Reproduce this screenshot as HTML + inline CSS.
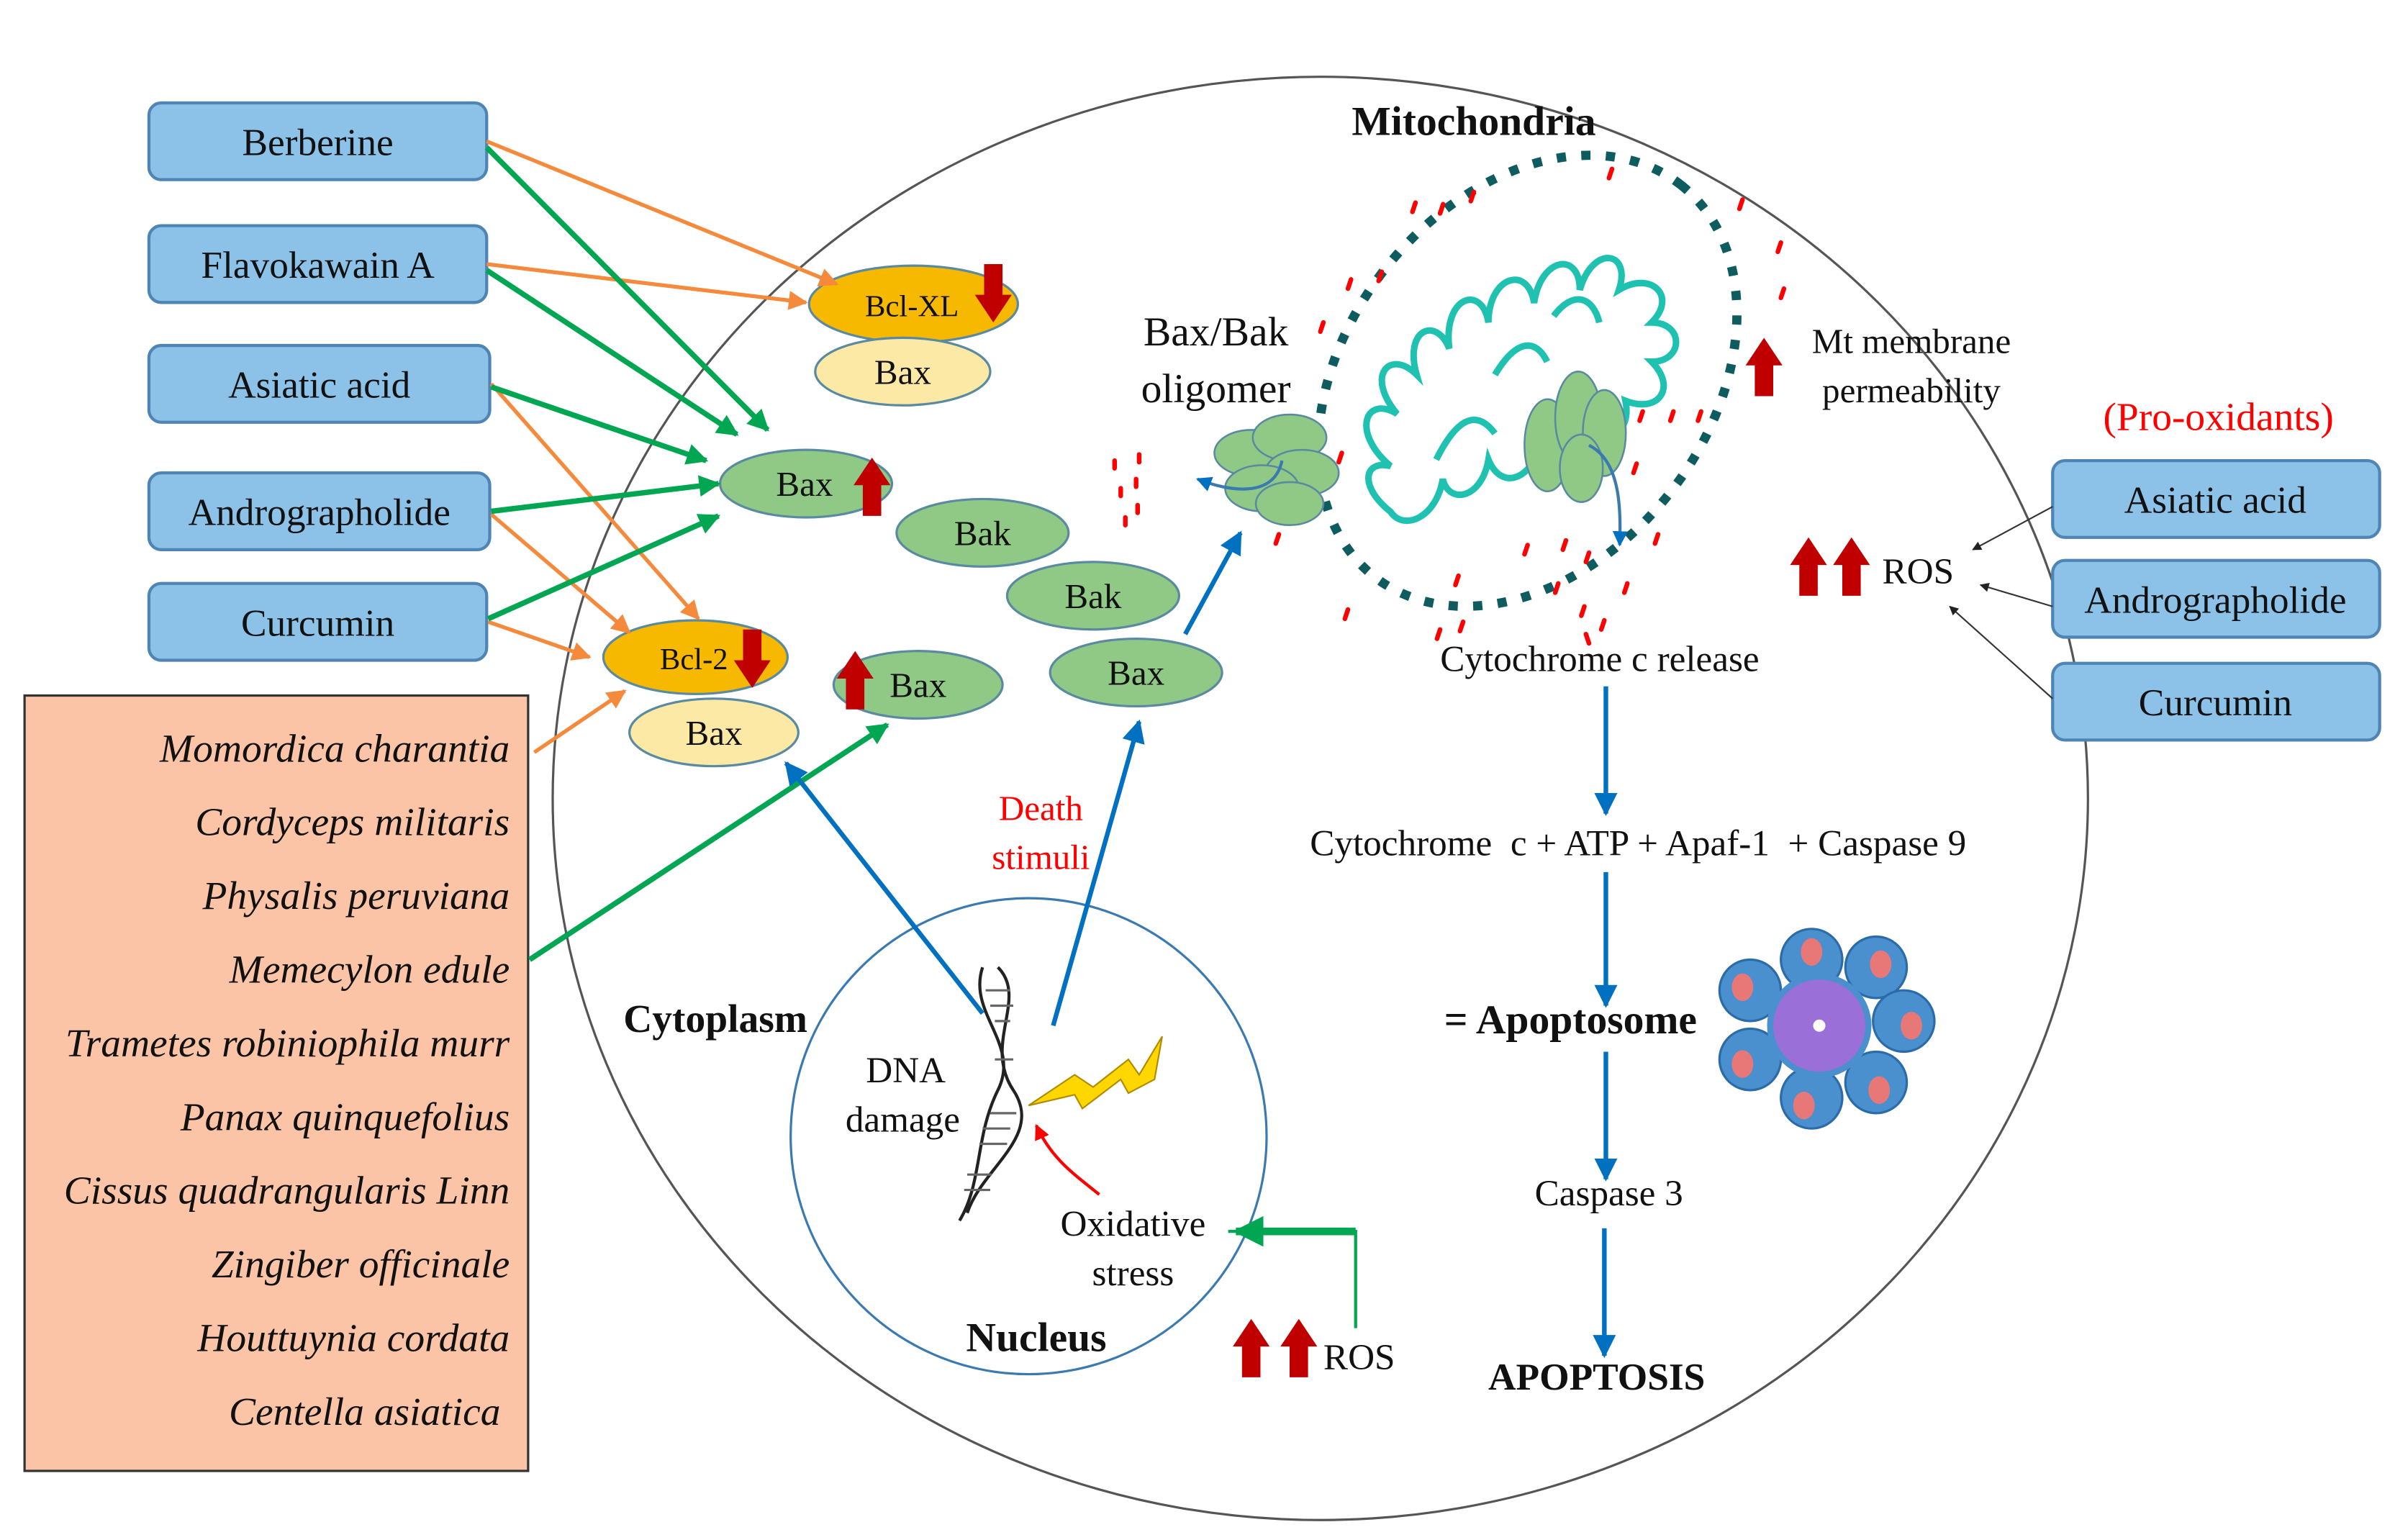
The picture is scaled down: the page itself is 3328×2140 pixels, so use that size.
<!DOCTYPE html>
<html><head><meta charset="utf-8"><style>html,body{margin:0;padding:0;background:#fff}svg{display:block}</style></head>
<body>
<svg width="3328" height="2140" viewBox="0 0 1560 1003" preserveAspectRatio="none" xmlns="http://www.w3.org/2000/svg" font-family="Liberation Serif, serif">
<defs>
<marker id="ao" viewBox="0 0 10 10" refX="9" refY="5" markerWidth="5" markerHeight="5" orient="auto"><path d="M0,0L10,5L0,10z" fill="#f58a3c"/></marker>
<marker id="ag" viewBox="0 0 10 10" refX="9" refY="5" markerWidth="4" markerHeight="4" orient="auto"><path d="M0,0L10,5L0,10z" fill="#00a651"/></marker>
<marker id="ab" viewBox="0 0 10 10" refX="9" refY="5" markerWidth="5" markerHeight="5" orient="auto"><path d="M0,0L10,5L0,10z" fill="#0070c0"/></marker>
<marker id="ak" viewBox="0 0 10 10" refX="9" refY="5" markerWidth="6" markerHeight="6" orient="auto"><path d="M0,0L10,5L0,10z" fill="#222"/></marker>
<marker id="ar" viewBox="0 0 10 10" refX="9" refY="5" markerWidth="5" markerHeight="5" orient="auto"><path d="M0,0L10,5L0,10z" fill="#f00"/></marker>
<g id="up"><polygon points="-6,-22 6,-22 6,0 -6,0" fill="#c00000"/><polygon points="-12,-20 0,-38 12,-20" fill="#c00000"/></g>
</defs>
<ellipse cx="860" cy="520" rx="500" ry="470" fill="none" stroke="#555" stroke-width="1.5"/>
<circle cx="670" cy="740" r="155" fill="none" stroke="#3a7ab0" stroke-width="1.5"/>

<g fill="#8cc1e8" stroke="#4f85b5" stroke-width="2">
<rect x="97" y="67" width="220" height="50" rx="8"/>
<rect x="97" y="147" width="220" height="50" rx="8"/>
<rect x="97" y="225" width="222" height="50" rx="8"/>
<rect x="97" y="308" width="222" height="50" rx="8"/>
<rect x="97" y="380" width="220" height="50" rx="8"/>
<rect x="1337" y="300" width="213" height="50" rx="8"/>
<rect x="1337" y="365" width="213" height="50" rx="8"/>
<rect x="1337" y="432" width="213" height="50" rx="8"/>
</g>
<g font-size="25" text-anchor="middle" fill="#111">
<text x="207" y="101">Berberine</text>
<text x="207" y="181">Flavokawain A</text>
<text x="208" y="259">Asiatic acid</text>
<text x="208" y="342">Andrographolide</text>
<text x="207" y="414">Curcumin</text>
<text x="1443" y="334">Asiatic acid</text>
<text x="1443" y="399">Andrographolide</text>
<text x="1443" y="466">Curcumin</text>
</g>
<text x="1445" y="280" font-size="26" fill="#f00" text-anchor="middle">(Pro-oxidants)</text>

<rect x="16" y="453" width="328" height="505" fill="#fbc4a6" stroke="#333" stroke-width="1.5"/>
<g font-size="26" font-style="italic" text-anchor="end" fill="#111">
<text x="332" y="496">Momordica charantia</text>
<text x="332" y="544">Cordyceps militaris</text>
<text x="332" y="592">Physalis peruviana</text>
<text x="332" y="640">Memecylon edule</text>
<text x="332" y="688">Trametes robiniophila murr</text>
<text x="332" y="736">Panax quinquefolius</text>
<text x="332" y="784">Cissus quadrangularis Linn</text>
<text x="332" y="832">Zingiber officinale</text>
<text x="332" y="880">Houttuynia cordata</text>
<text x="326" y="928">Centella asiatica</text>
</g>

<g stroke="#5a8aa0" stroke-width="1.5">
<ellipse cx="595" cy="198" rx="68" ry="25" fill="#f7b900"/>
<ellipse cx="588" cy="242" rx="57" ry="22" fill="#fde9a6"/>
<ellipse cx="525" cy="315" rx="56" ry="22" fill="#90c985"/>
<ellipse cx="640" cy="347" rx="56" ry="22" fill="#90c985"/>
<ellipse cx="712" cy="388" rx="56" ry="22" fill="#90c985"/>
<ellipse cx="740" cy="438" rx="56" ry="22" fill="#90c985"/>
<ellipse cx="453" cy="428" rx="60" ry="24" fill="#f7b900"/>
<ellipse cx="465" cy="477" rx="55" ry="22" fill="#fde9a6"/>
<ellipse cx="598" cy="446" rx="55" ry="22" fill="#90c985"/>
</g>
<g font-size="23" text-anchor="middle" fill="#111">
<text x="594" y="206" font-size="20">Bcl-XL</text>
<text x="588" y="250">Bax</text>
<text x="524" y="323">Bax</text>
<text x="640" y="355">Bak</text>
<text x="712" y="396">Bak</text>
<text x="740" y="446">Bax</text>
<text x="452" y="436" font-size="20">Bcl-2</text>
<text x="465" y="485">Bax</text>
<text x="598" y="454">Bax</text>
</g>
<use href="#up" transform="translate(647,172) rotate(180)"/>
<use href="#up" transform="translate(568,336)"/>
<use href="#up" transform="translate(490,410) rotate(180)"/>
<use href="#up" transform="translate(557,462)"/>

<g stroke="#f58a3c" stroke-width="2.5" fill="none" marker-end="url(#ao)">
<line x1="317" y1="92" x2="545" y2="185"/>
<line x1="317" y1="172" x2="525" y2="197"/>
<line x1="320" y1="250" x2="455" y2="403"/>
<line x1="320" y1="335" x2="410" y2="412"/>
<line x1="318" y1="405" x2="384" y2="428"/>
<line x1="348" y1="490" x2="407" y2="450"/>
</g>
<g stroke="#00a651" stroke-width="3.5" fill="none" marker-end="url(#ag)">
<line x1="317" y1="96" x2="500" y2="280"/>
<line x1="317" y1="176" x2="480" y2="283"/>
<line x1="320" y1="252" x2="460" y2="300"/>
<line x1="320" y1="333" x2="468" y2="315"/>
<line x1="318" y1="403" x2="468" y2="336"/>
<line x1="345" y1="625" x2="578" y2="472"/>
</g>
<g stroke="#0070c0" stroke-width="3" fill="none" marker-end="url(#ab)">
<line x1="640" y1="660" x2="512" y2="497"/>
<line x1="686" y1="668" x2="742" y2="470"/>
<line x1="772" y1="413" x2="808" y2="347"/>
<line x1="1046" y1="447" x2="1046" y2="530"/>
<line x1="1046" y1="568" x2="1046" y2="655"/>
<line x1="1046" y1="685" x2="1046" y2="768"/>
<line x1="1045" y1="800" x2="1045" y2="883"/>
</g>
<polyline points="883,865 883,802 800,802" stroke="#00a651" stroke-width="2" fill="none"/>
<line x1="883" y1="802" x2="805" y2="802" stroke="#00a651" stroke-width="5" marker-end="url(#ag)"/>
<g stroke="#333" stroke-width="1" marker-end="url(#ak)">
<line x1="1337" y1="330" x2="1285" y2="358"/>
<line x1="1337" y1="395" x2="1290" y2="381"/>
<line x1="1337" y1="455" x2="1270" y2="395"/>
</g>

<!-- mitochondria -->
<ellipse cx="995" cy="248" rx="162" ry="118" transform="rotate(-52 995 248)" fill="none" stroke="#0e5c60" stroke-width="6" stroke-dasharray="6 10"/>
<g transform="translate(995 250) scale(0.85) translate(-985 -262)">
<path d="M880,360 C855,340 860,320 880,325 C850,300 860,270 885,285 C860,255 880,235 900,255 C890,220 915,210 925,235 C920,195 950,185 955,215 C955,180 985,170 990,200 C995,165 1025,160 1025,190 C1035,155 1065,160 1055,190 C1080,175 1100,195 1080,215 C1105,215 1105,245 1080,245 C1100,265 1085,285 1060,275 C1065,300 1045,310 1030,295 C1030,320 1005,330 995,305 C990,335 965,345 955,320 C950,350 925,355 920,335 C915,365 890,375 880,360 Z" fill="none" stroke="#1fc1b0" stroke-width="5"/>
<path d="M915,320 C930,290 945,280 960,300 M960,255 C975,230 990,225 1000,245 M1005,210 C1020,190 1035,195 1040,215" fill="none" stroke="#1fc1b0" stroke-width="5"/>
</g>
<g fill="#90c985" stroke="#5a8aa0" stroke-width="1.2">
<ellipse cx="815" cy="295" rx="24" ry="15"/><ellipse cx="840" cy="285" rx="24" ry="15"/><ellipse cx="848" cy="308" rx="24" ry="15"/><ellipse cx="822" cy="318" rx="24" ry="15"/><ellipse cx="840" cy="328" rx="22" ry="14"/>
<ellipse cx="1008" cy="290" rx="15" ry="30"/><ellipse cx="1028" cy="272" rx="15" ry="30"/><ellipse cx="1045" cy="282" rx="14" ry="28"/><ellipse cx="1030" cy="305" rx="14" ry="22"/>
</g>
<path d="M835,300 C830,325 800,320 780,312" stroke="#3a7ab0" stroke-width="2" fill="none" marker-end="url(#ab)"/>
<path d="M1035,290 C1055,300 1056,330 1055,355" stroke="#3a7ab0" stroke-width="2" fill="none" marker-end="url(#ab)"/>
<g stroke="#f00" stroke-width="3" stroke-linecap="round">
<line x1="880" y1="182" x2="878" y2="188"/><line x1="900" y1="177" x2="898" y2="183"/><line x1="922" y1="132" x2="920" y2="138"/><line x1="940" y1="133" x2="938" y2="139"/><line x1="960" y1="125" x2="958" y2="131"/><line x1="1050" y1="110" x2="1048" y2="116"/><line x1="1135" y1="130" x2="1133" y2="136"/><line x1="1160" y1="158" x2="1158" y2="164"/><line x1="1162" y1="188" x2="1160" y2="194"/><line x1="862" y1="210" x2="860" y2="216"/><line x1="874" y1="295" x2="872" y2="301"/><line x1="1070" y1="268" x2="1068" y2="274"/><line x1="1090" y1="268" x2="1088" y2="274"/><line x1="1108" y1="268" x2="1106" y2="274"/><line x1="1066" y1="302" x2="1064" y2="308"/><line x1="1035" y1="360" x2="1033" y2="366"/><line x1="1080" y1="348" x2="1078" y2="354"/><line x1="1060" y1="380" x2="1058" y2="386"/><line x1="1020" y1="352" x2="1018" y2="358"/><line x1="995" y1="355" x2="993" y2="361"/><line x1="950" y1="375" x2="948" y2="381"/><line x1="1015" y1="380" x2="1013" y2="386"/><line x1="1032" y1="395" x2="1030" y2="401"/><line x1="1045" y1="404" x2="1043" y2="410"/><line x1="878" y1="397" x2="876" y2="403"/><line x1="953" y1="405" x2="951" y2="411"/><line x1="938" y1="410" x2="936" y2="416"/><line x1="1033" y1="413" x2="1035" y2="419"/>
<line x1="726" y1="300" x2="726" y2="305"/><line x1="742" y1="296" x2="742" y2="301"/><line x1="730" y1="318" x2="730" y2="323"/><line x1="741" y1="329" x2="741" y2="334"/><line x1="733" y1="337" x2="733" y2="342"/><line x1="740" y1="312" x2="740" y2="317"/><line x1="833" y1="348" x2="831" y2="354"/>
</g>

<use href="#up" transform="translate(1178,388)"/>
<use href="#up" transform="translate(1206,388)"/>
<use href="#up" transform="translate(815,897)"/>
<use href="#up" transform="translate(846,897)"/>
<use href="#up" transform="translate(1149,258)"/>

<g fill="none" stroke="#222" stroke-width="2">
<path d="M650,630 C670,650 640,680 660,710 C680,740 640,760 630,790"/>
<path d="M640,630 C630,660 665,680 650,710 C635,740 640,770 625,795"/>
</g>
<g stroke="#666" stroke-width="1.5">
<line x1="642" y1="645" x2="658" y2="645"/><line x1="645" y1="655" x2="660" y2="655"/><line x1="648" y1="665" x2="658" y2="665"/><line x1="648" y1="690" x2="660" y2="690"/><line x1="645" y1="725" x2="662" y2="725"/><line x1="640" y1="735" x2="658" y2="735"/><line x1="638" y1="745" x2="656" y2="745"/><line x1="630" y1="765" x2="646" y2="765"/><line x1="628" y1="775" x2="645" y2="775"/>
</g>
<polygon points="670,720 700,700 712,708 735,690 742,700 757,675 752,703 735,712 730,703 705,722 700,713" fill="#ffd700" stroke="#b08a00" stroke-width="1"/>
<path d="M716,778 C700,765 685,755 675,733" stroke="#f00" stroke-width="2" fill="none" marker-end="url(#ar)"/>

<g>
<g fill="#4a8fce" stroke="#2b6ca8" stroke-width="1.5">
<circle cx="1180" cy="625" r="20"/><circle cx="1222" cy="630" r="20"/><circle cx="1240" cy="665" r="20"/><circle cx="1222" cy="705" r="20"/><circle cx="1180" cy="715" r="20"/><circle cx="1140" cy="690" r="20"/><circle cx="1140" cy="645" r="20"/>
</g>
<circle cx="1185" cy="668" r="32" fill="#9b6fd8" stroke="#4a8fce" stroke-width="4"/>
<g fill="#e87878"><ellipse cx="1180" cy="620" rx="7" ry="9"/><ellipse cx="1225" cy="628" rx="7" ry="9"/><ellipse cx="1245" cy="668" rx="7" ry="9"/><ellipse cx="1224" cy="710" rx="7" ry="9"/><ellipse cx="1175" cy="720" rx="7" ry="9"/><ellipse cx="1135" cy="693" rx="7" ry="9"/><ellipse cx="1135" cy="643" rx="7" ry="9"/></g>
<circle cx="1185" cy="668" r="4" fill="#fff"/>
</g>

<g fill="#111">
<text x="960" y="88" font-size="27" font-weight="bold" text-anchor="middle">Mitochondria</text>
<text x="792" y="225" font-size="27" text-anchor="middle">Bax/Bak</text>
<text x="792" y="262" font-size="27" text-anchor="middle">oligomer</text>
<text x="1245" y="230" font-size="23" text-anchor="middle">Mt membrane</text>
<text x="1245" y="262" font-size="23" text-anchor="middle">permeability</text>
<text x="1226" y="380" font-size="24">ROS</text>
<text x="1042" y="437" font-size="24" text-anchor="middle">Cytochrome  c release</text>
<text x="1067" y="557" font-size="24" text-anchor="middle" xml:space="preserve">Cytochrome  c + ATP + Apaf-1  + Caspase 9</text>
<text x="1023" y="673" font-size="27" font-weight="bold" text-anchor="middle">= Apoptosome</text>
<text x="1048" y="785" font-size="24" text-anchor="middle">Caspase  3</text>
<text x="1040" y="905" font-size="25" font-weight="bold" text-anchor="middle">APOPTOSIS</text>
<text x="466" y="672" font-size="26" font-weight="bold" text-anchor="middle">Cytoplasm</text>
<text x="590" y="705" font-size="24" text-anchor="middle">DNA</text>
<text x="588" y="737" font-size="24" text-anchor="middle">damage</text>
<text x="738" y="805" font-size="24" text-anchor="middle">Oxidative</text>
<text x="738" y="837" font-size="24" text-anchor="middle">stress</text>
<text x="675" y="880" font-size="27" font-weight="bold" text-anchor="middle">Nucleus</text>
<text x="862" y="892" font-size="24">ROS</text>
<text x="678" y="534" font-size="23" fill="#f00" text-anchor="middle">Death</text>
<text x="678" y="566" font-size="23" fill="#f00" text-anchor="middle">stimuli</text>
</g>
</svg>
</body></html>
